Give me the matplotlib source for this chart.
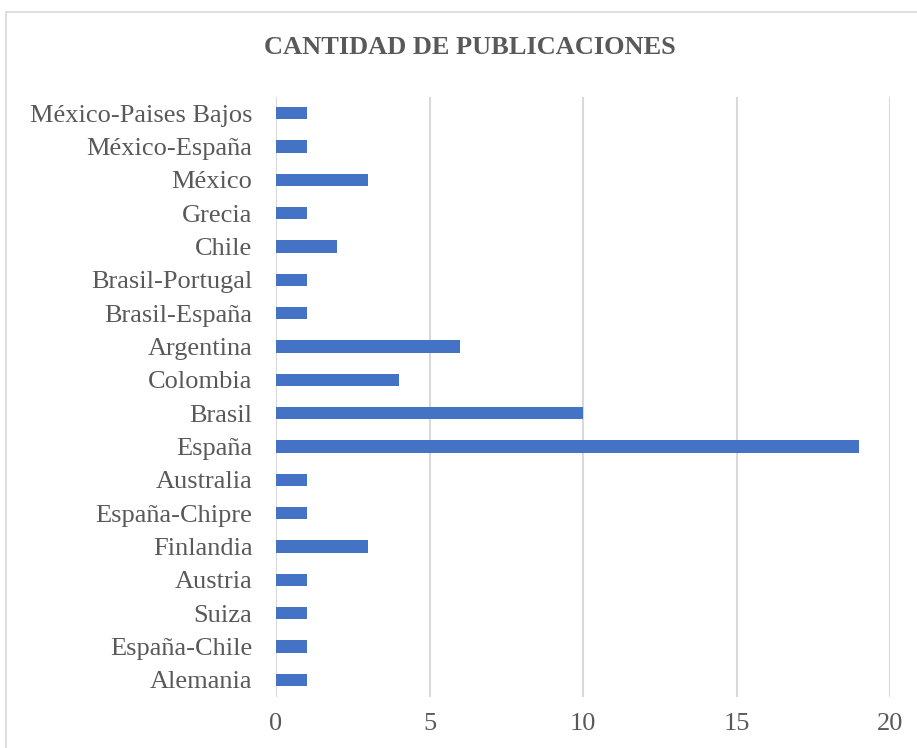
import matplotlib
matplotlib.use("Agg")
import matplotlib.pyplot as plt
from matplotlib.patches import Rectangle

paises = [
    "Alemania", "España-Chile", "Suiza", "Austria", "Finlandia",
    "España-Chipre", "Australia", "España", "Brasil", "Colombia",
    "Argentina", "Brasil-España", "Brasil-Portugal", "Chile", "Grecia",
    "México", "México-España", "México-Paises Bajos",
]
publicaciones = [1, 1, 1, 1, 3, 1, 1, 19, 10, 4, 6, 1, 1, 2, 1, 3, 1, 1]
x_ticks = [0, 5, 10, 15, 20]

W, H = 917, 748
fig = plt.figure(figsize=(W / 100, H / 100), dpi=100)
plt.rcParams["font.family"] = ["Liberation Serif", "DejaVu Serif"]

# chart frame
fig.patches.append(Rectangle((6 / W, -0.1), 1.2, 1 - 12 / H + 0.1,
                             transform=fig.transFigure, fill=False,
                             edgecolor="#d9d9d9", linewidth=1.2))

left, right, top, bottom = 276, 890, 96.5, 696.5
ax = fig.add_axes([left / W, 1 - bottom / H, (right - left) / W, (bottom - top) / H])

ax.barh(range(len(paises)), publicaciones, height=0.37, color="#4472C4", zorder=3)
ax.set_xlim(0, 20)
ax.set_ylim(-0.5, len(paises) - 0.5)
ax.set_xticks(x_ticks)
ax.set_yticks(range(len(paises)))
ax.set_yticklabels(paises)
ax.tick_params(axis="both", length=0, labelsize=19, labelcolor="#595959")
ax.tick_params(axis="y", pad=17)
ax.tick_params(axis="x", pad=12)
ax.grid(axis="x", color="#d9d9d9", linewidth=1.5, zorder=0)
for s in ax.spines.values():
    s.set_visible(False)

fig.text(470 / W, 1 - 48 / H, "CANTIDAD DE PUBLICACIONES", ha="center", va="center",
         fontsize=19, fontweight="bold", color="#595959")

fig.savefig("out.png", dpi=100)
